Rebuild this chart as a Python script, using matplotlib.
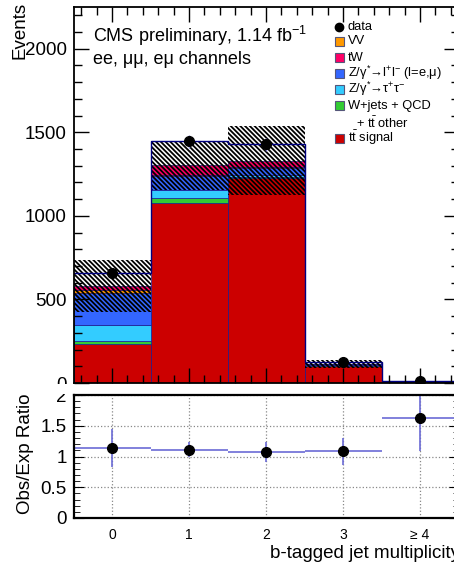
import numpy as np
import matplotlib
matplotlib.use('Agg')
from matplotlib import pyplot as plt
from matplotlib.patches import Rectangle
from matplotlib.ticker import MultipleLocator

plt.rcParams['font.family'] = ['Liberation Sans', 'DejaVu Sans']
plt.rcParams['mathtext.fontset'] = 'custom'
plt.rcParams['mathtext.rm'] = 'Liberation Sans'
plt.rcParams['mathtext.it'] = 'Liberation Sans:italic'
plt.rcParams['mathtext.sf'] = 'Liberation Sans'
plt.rcParams['hatch.linewidth'] = 1.3

# b-tag multiplicity bins
bins = [0, 1, 2, 3, 4]
bin_labels = ['0', '1', '2', '3', '≥ 4']

data = [657, 1446, 1428, 126, 12]
tt_signal = [233, 1080, 1228, 104, 6.4]
wjets = [20, 27, 6, 1, 0.1]
dy_tautau = [96, 50, 12, 1, 0.1]
dy_ll = [189, 80, 40, 5, 0.3]
vv = [20, 6, 5, 1, 0.1]
tw = [22, 60, 40, 4, 0.4]
mc_unc = [157, 148, 208, 24, 2]
ratio_unc = [0.31, 0.12, 0.17, 0.22, 0.53]

# stacked from the bottom up
stack = [
    (tt_signal, '#cc0000'),
    (wjets, '#33cc33'),
    (dy_tautau, '#33ccff'),
    (dy_ll, '#3366ff'),
    (vv, '#ff9900'),
    (tw, '#ff0066'),
]

W, H = 454, 566
fig = plt.figure(figsize=(W / 100, H / 100), dpi=100)


def fx(px):
    return px / W


def fy(py):
    return 1 - py / H


ax = fig.add_axes([fx(73.5), fy(383), fx(385), fy(7) - fy(383)])
ax2 = fig.add_axes([fx(73.5), fy(518), fx(385), fy(395) - fy(518)])

x = np.array(bins, dtype=float)
bottom = np.zeros(len(bins))
for vals, col in stack:
    vals = np.array(vals, dtype=float)
    ax.bar(x, vals, width=1.0, bottom=bottom, color=col,
           edgecolor='#1a1a8c', linewidth=0.5)
    bottom += vals
total = bottom

unc = np.array(mc_unc, dtype=float)
ax.bar(x, 2 * unc, width=1.0, bottom=total - unc, fill=False,
       hatch='\\' * 7, edgecolor='black', linewidth=0)

edges = np.append(x - 0.5, x[-1] + 0.5)
ax.stairs(data, edges, color='#000080', linewidth=1.0, baseline=None)
ax.errorbar(x, data, yerr=np.sqrt(data), fmt='o', color='black',
            ecolor='#8080d8', elinewidth=1, ms=7)

ax.set_xlim(-0.5, 4.5)
ax.set_ylim(0, 2250)
ax.xaxis.set_major_locator(MultipleLocator(1))
ax.xaxis.set_minor_locator(MultipleLocator(0.2))
ax.yaxis.set_major_locator(MultipleLocator(500))
ax.yaxis.set_minor_locator(MultipleLocator(100))
ax.tick_params(which='both', direction='in', top=True, right=True,
               labelbottom=False, labelsize=13.5, pad=5)
ax.tick_params(which='major', length=11, width=1)
ax.tick_params(which='minor', length=5.5, width=1)
for s in ax.spines.values():
    s.set_linewidth(1.3)

# white strip between the two panels hides the lower part of the "0" label
fig.patches.append(Rectangle((fx(30), fy(394)), fx(42), fy(384) - fy(394),
                             facecolor='white', edgecolor='none', zorder=5,
                             transform=fig.transFigure))

fig.text(fx(20), fy(2), 'Events', rotation=90, ha='center', va='top',
         fontsize=13.5)
fig.text(fx(93), fy(36), r'CMS preliminary, 1.14 fb$^{-1}$',
         fontsize=13, va='center')
fig.text(fx(93), fy(59), 'ee, μμ, eμ channels', fontsize=13, va='center')

# legend
leg_rows = [
    (26.5, 'marker', 'black', 'data'),
    (41, 'box', '#ff9900', 'VV'),
    (57.5, 'box', '#ff0066', 'tW'),
    (73, 'box', '#3366ff', r'Z/γ$^{*}$→l$^{+}$l$^{-}$ (l=e,μ)'),
    (89, 'box', '#33ccff', r'Z/γ$^{*}$→τ$^{+}$τ$^{-}$'),
    (105.5, 'box', '#33cc33', 'W+jets + QCD'),
    (123, 'none', None, r'+ $\mathrm{t\bar{t}}$ other'),
    (138, 'box', '#cc0000', r'$\mathrm{t\bar{t}}$ signal'),
]
for py, kind, col, label in leg_rows:
    if kind == 'marker':
        fig.add_artist(plt.Line2D([fx(339)], [fy(py)], marker='o',
                                  color=col, ms=6,
                                  transform=fig.transFigure))
    elif kind == 'box':
        fig.patches.append(Rectangle((fx(335), fy(py + 4.5)), fx(9),
                                     fy(py - 4.5) - fy(py + 4.5),
                                     facecolor=col, edgecolor='#55557a',
                                     linewidth=0.8,
                                     transform=fig.transFigure))
    tx = 356.5 if kind == 'none' else 348
    fig.text(fx(tx), fy(py), label, fontsize=9.3, va='center', ha='left')

# ratio panel
ratio = np.array(data) / total
ax2.errorbar(x, ratio, xerr=0.5, yerr=ratio_unc, fmt='none',
             ecolor='#6b6bd6', elinewidth=1.2)
ax2.plot(x, ratio, 'o', color='black', ms=7, zorder=5)
ax2.set_xlim(-0.5, 4.5)
ax2.set_ylim(0, 2)
ax2.set_xticks(bins)
ax2.set_xticklabels(bin_labels)
ax2.yaxis.set_major_locator(MultipleLocator(0.5))
ax2.yaxis.set_minor_locator(MultipleLocator(0.1))
ax2.set_yticks([0, 0.5, 1, 1.5, 2])
ax2.set_yticklabels(['0', '0.5', '1', '1.5', '2'])
ax2.grid(True, which='major', linestyle=':', color='#888888', linewidth=0.9)
ax2.tick_params(which='both', direction='in', right=True)
ax2.tick_params(axis='y', which='major', length=7, labelsize=13.5, pad=5)
ax2.tick_params(axis='y', which='minor', length=4)
ax2.tick_params(axis='x', which='major', length=0, labelsize=10, pad=7)
for s in ax2.spines.values():
    s.set_linewidth(1.6)

fig.text(fx(25), fy(454), 'Obs/Exp Ratio', rotation=90, ha='center',
         va='center', fontsize=13.5)
fig.text(fx(460), fy(554), 'b-tagged jet multiplicity', ha='right',
         va='center', fontsize=13.5)

fig.savefig('out.png', dpi=100)
